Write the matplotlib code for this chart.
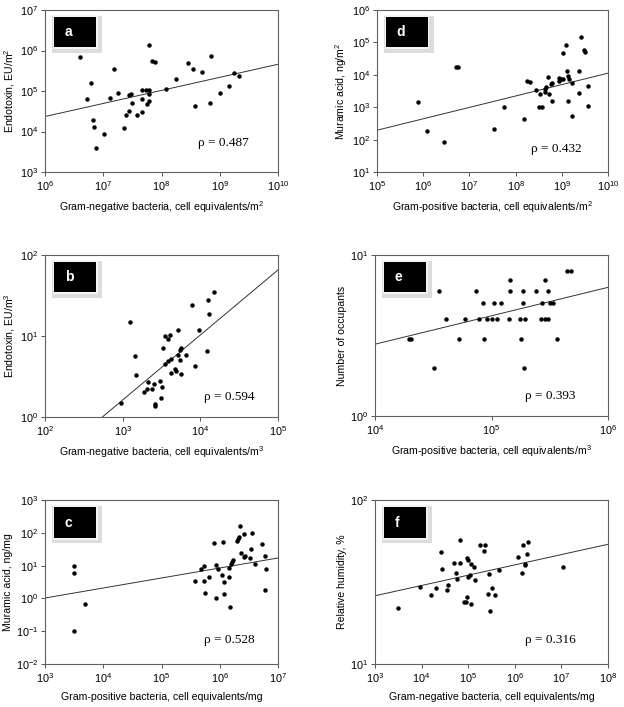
import numpy as np
import matplotlib
matplotlib.use("Agg")
import matplotlib.pyplot as plt
from matplotlib.patches import Rectangle

plt.rcParams['font.family'] = ['Liberation Sans', 'DejaVu Sans']
plt.rcParams['mathtext.fontset'] = 'custom'
plt.rcParams['mathtext.rm'] = 'Liberation Sans'
plt.rcParams['mathtext.it'] = 'Liberation Sans'
plt.rcParams['mathtext.default'] = 'regular'

# panel a: Gram-negative (cells/m2) vs endotoxin (EU/m2)
a_x = [4.0e6, 5.2e6, 6.1e6, 6.7e6, 7.0e6, 7.4e6, 1.05e7, 1.31e7, 1.51e7, 1.78e7,
       2.27e7, 2.45e7, 2.8e7, 2.8e7, 2.95e7, 3.1e7, 3.8e7, 4.6e7, 4.7e7, 4.7e7,
       5.4e7, 5.6e7, 6.0e7, 6.1e7, 6.1e7, 6.1e7, 6.9e7, 7.6e7, 1.2e8, 1.74e8,
       2.85e8, 3.43e8, 3.76e8, 4.9e8, 6.8e8, 7.2e8, 1.0e9, 1.45e9, 1.76e9, 2.1e9]
a_y = [7.1e5, 6.4e4, 1.56e5, 1.95e4, 1.31e4, 3.9e3, 8.5e3, 6.9e4, 3.5e5, 8.9e4,
       1.19e4, 2.6e4, 7.8e4, 3.2e4, 8.5e4, 5.1e4, 2.6e4, 3.1e4, 6.5e4, 1.07e5,
       1.07e5, 4.7e4, 1.07e5, 1.38e6, 8.3e4, 5.8e4, 5.5e5, 5.2e5, 1.1e5, 2.0e5,
       4.9e5, 3.5e5, 4.2e4, 2.9e5, 5.1e4, 7.2e5, 9.1e4, 1.35e5, 2.75e5, 2.35e5]

# panel d: Gram-positive (cells/m2) vs muramic acid (ng/m2)
d_x = [7.9e5, 1.23e6, 2.77e6, 5.1e6, 5.6e6, 3.35e7, 5.6e7, 1.51e8, 1.79e8, 2.09e8,
       2.7e8, 3.16e8, 3.4e8, 3.7e8, 4.3e8, 4.4e8, 4.6e8, 5.1e8, 5.4e8, 5.9e8,
       6.0e8, 6.0e8, 8.9e8, 8.9e8, 9.8e8, 1.05e9, 1.07e9, 1.23e9, 1.32e9, 1.35e9,
       1.38e9, 1.45e9, 1.66e9, 1.66e9, 3.0e9, 3.1e9, 2.3e9, 2.3e9, 2.57e9, 3.6e9, 3.7e9]
d_y = [1.46e3, 1.81e2, 8.7e1, 1.69e4, 1.69e4, 2.14e2, 1.05e3, 4.2e2, 6.5e3, 5.9e3,
       3.44e3, 9.8e2, 2.63e3, 1.02e3, 3.0e3, 3.6e3, 4.3e3, 8.3e3, 2.63e3, 5.1e3,
       1.55e3, 5.6e3, 6.5e3, 7.8e3, 7.2e3, 4.6e4, 7.2e3, 8.3e4, 1.32e4, 1.58e3,
       9.5e3, 7.2e3, 5.4e3, 5.5e2, 6.0e4, 5.1e4, 1.29e4, 2.7e3, 1.5e5, 4.5e3, 1.12e3]

# panel b: Gram-negative (cells/m3) vs endotoxin (EU/m3)
b_x = [9.5e2, 1.24e3, 1.46e3, 1.5e3, 1.88e3, 2.04e3, 2.12e3, 2.36e3, 2.53e3, 2.58e3,
       2.63e3, 3.05e3, 3.15e3, 3.24e3, 3.3e3, 3.48e3, 3.5e3, 3.8e3, 3.84e3, 4.1e3,
       4.15e3, 4.15e3, 4.72e3, 4.8e3, 5.2e3, 5.15e3, 5.47e3, 5.52e3, 5.58e3, 5.62e3,
       6.5e3, 7.7e3, 8.5e3, 9.7e3, 1.22e4, 1.27e4, 1.29e4, 1.51e4]
b_y = [1.49, 14.9, 5.6, 3.26, 2.01, 2.21, 2.7, 2.23, 2.52, 1.46,
       1.35, 2.78, 1.70, 2.32, 7.1, 10.0, 4.5, 9.3, 4.9, 10.4,
       3.45, 5.2, 3.9, 3.72, 11.9, 5.8, 6.8, 5.0, 3.36, 7.1,
       5.8, 24.4, 4.3, 12.0, 6.6, 27.6, 18.9, 34.7]

# panel e: Gram-positive (cells/m3) vs number of occupants
e_x = [1.95e4, 2.05e4, 3.23e4, 3.54e4, 4.08e4, 5.25e4, 5.98e4, 7.43e4, 7.74e4, 8.53e4,
       8.65e4, 9.18e4, 1.01e5, 1.05e5, 1.12e5, 1.21e5, 1.42e5, 1.45e5, 1.45e5, 1.74e5,
       1.78e5, 1.85e5, 1.86e5, 1.89e5, 1.95e5, 2.43e5, 2.65e5, 2.72e5, 2.88e5, 2.9e5,
       3.06e5, 3.06e5, 3.16e5, 3.38e5, 3.66e5, 4.43e5, 4.82e5]
e_y = [3, 3, 2, 6, 4, 3, 4, 6, 4, 5,
       3, 4, 4, 5, 4, 5, 4, 7, 6, 4,
       3, 5, 6, 2, 4, 6, 4, 5, 7, 4,
       6, 4, 5, 5, 3, 8, 8]

# panel c: Gram-positive (cells/mg) vs muramic acid (ng/mg)
c_x = [3.2e3, 3.2e3, 3.2e3, 4.8e3, 3.69e5, 4.74e5, 5.35e5, 5.35e5, 5.5e5, 6.44e5,
       7.9e5, 8.5e5, 8.5e5, 9.46e5, 1.11e6, 1.12e6, 1.18e6, 1.2e6, 1.45e6, 1.46e6,
       1.52e6, 1.56e6, 1.63e6, 1.69e6, 1.96e6, 2.07e6, 2.15e6, 2.26e6, 2.29e6, 2.59e6,
       2.62e6, 2.73e6, 3.33e6, 3.47e6, 3.51e6, 4.01e6, 5.3e6, 5.89e6, 5.96e6, 6.12e6]
c_y = [9.7, 5.9, 0.099, 0.69, 3.5, 7.7, 10.0, 3.4, 1.43, 4.6,
       48.9, 1.03, 10.7, 7.7, 5.2, 51, 1.39, 3.1, 8.3, 4.4,
       0.53, 11.2, 12.9, 15.2, 55, 66, 73, 157, 23.7, 17.9,
       94, 19.2, 17.1, 32.9, 101, 10.9, 44.5, 19.6, 1.76, 7.9]

# panel f: Gram-negative (cells/mg) vs relative humidity (%)
f_x = [3.06e3, 9.06e3, 1.58e4, 2.06e4, 2.55e4, 2.77e4, 3.49e4, 3.66e4, 5.01e4, 5.36e4,
       5.62e4, 6.62e4, 6.75e4, 8.2e4, 8.77e4, 9.2e4, 9.35e4, 1.0e5, 1.0e5, 1.1e5,
       1.14e5, 1.16e5, 1.32e5, 1.37e5, 1.78e5, 2.13e5, 2.28e5, 2.64e5, 2.82e5, 2.96e5,
       3.27e5, 3.72e5, 4.61e5, 1.2e6, 1.41e6, 1.48e6, 1.66e6, 1.66e6, 1.84e6, 1.96e6, 1.07e7]
f_y = [22.1, 29.3, 26.5, 29.2, 48.3, 38.2, 28.2, 30.3, 41.2, 36.1,
       33.2, 41.2, 57.4, 24.0, 24.0, 25.7, 44.2, 43.2, 34.0, 34.7,
       40.8, 23.1, 39.2, 32.3, 53.5, 48.8, 53.5, 26.7, 35.2, 21.1,
       29.2, 26.2, 37.2, 45.2, 36.1, 53.2, 41.0, 40.0, 47.1, 55.2, 39.2]

# regression lines, log10(y) = intercept + slope * log10(x)
fits = {"a": (2.435, 0.3225), "d": (0.53, 0.352), "b": (-2.1975, 0.8025),
        "e": (-0.26, 0.1765), "c": (-0.903, 0.305), "f": (1.2276, 0.0628)}
rhos = {"a": "0.487", "d": "0.432", "b": "0.594", "e": "0.393", "c": "0.528", "f": "0.316"}

W, H = 624, 707
fig = plt.figure(figsize=(W / 100, H / 100), dpi=100)

def add_ax(l, r, t, b):
    return fig.add_axes([l / W, 1 - b / H, (r - l) / W, (b - t) / H])

panels = [
    ("a", (45, 278, 10, 172), a_x, a_y, (1e6, 1e10), (1e3, 1e7),
     "Gram-negative bacteria, cell equivalents/m$^2$", "Endotoxin, EU/m$^2$", (0.657, 0.18)),
    ("d", (377, 608, 10, 172), d_x, d_y, (1e5, 1e10), (1e1, 1e6),
     "Gram-positive bacteria, cell equivalents/m$^2$", "Muramic acid, ng/m$^2$", (0.667, 0.142)),
    ("b", (45, 278, 255, 417), b_x, b_y, (1e2, 1e5), (1e0, 1e2),
     "Gram-negative bacteria, cell equivalents/m$^3$", "Endotoxin, EU/m$^3$", (0.682, 0.123)),
    ("e", (375, 608, 255, 416), e_x, e_y, (1e4, 1e6), (1e0, 1e1),
     "Gram-positive bacteria, cell equivalents/m$^3$", "Number of occupants", (0.644, 0.124)),
    ("c", (45, 278, 500, 664), c_x, c_y, (1e3, 1e7), (1e-2, 1e3),
     "Gram-positive bacteria, cell equivalents/mg", "Muramic acid, ng/mg", (0.682, 0.146)),
    ("f", (375, 608, 500, 664), f_x, f_y, (1e3, 1e8), (1e1, 1e2),
     "Gram-negative bacteria, cell equivalents/mg", "Relative humidity, %", (0.644, 0.146)),
]

for key, box, x, y, xl, yl, xlab, ylab, rpos in panels:
    ax = add_ax(*box)
    ax.set_xscale("log")
    ax.set_yscale("log")
    ax.set_xlim(*xl)
    ax.set_ylim(*yl)
    ax.plot(x, y, "o", color="black", markersize=3.2, markeredgewidth=0, clip_on=False, zorder=3)

    b0, b1 = fits[key]
    lx = np.array(xl)
    ax.plot(lx, 10 ** (b0 + b1 * np.log10(lx)), color="#333333", linewidth=0.7)

    ax.minorticks_off()
    ax.tick_params(which="major", direction="out", length=3, width=0.7, color="#555555",
                   labelsize=7.8, pad=2)
    for s in ax.spines.values():
        s.set_color("#606060")
        s.set_linewidth(0.8)
    ax.set_xlabel(xlab, fontsize=7.6, labelpad=5)
    ax.set_ylabel(ylab, fontsize=7.6, labelpad=2)

    ax.text(rpos[0], rpos[1], "\u03c1 = " + rhos[key], transform=ax.transAxes,
            fontsize=9.5, family="Liberation Serif", va="center", ha="left")

    # panel letter box with grey shadow
    bx, by, bw, bh = 0.04, 0.77, 0.18, 0.185
    ax.add_patch(Rectangle((bx - 0.01, by - 0.035), bw + 0.035, bh + 0.045,
                           transform=ax.transAxes, facecolor="#dcdcdc", edgecolor="none", zorder=4))
    ax.add_patch(Rectangle((bx - 0.006, by - 0.012), bw + 0.012, bh + 0.024,
                           transform=ax.transAxes, facecolor="#f4f4f4", edgecolor="none", zorder=4))
    ax.add_patch(Rectangle((bx, by), bw, bh, transform=ax.transAxes,
                           facecolor="black", edgecolor="none", zorder=5))
    ax.text(bx + 0.045, by + bh / 2, key, transform=ax.transAxes, color="white",
            fontsize=10, fontweight="bold", va="center", ha="left", zorder=6)

fig.savefig("out.png", dpi=100)
